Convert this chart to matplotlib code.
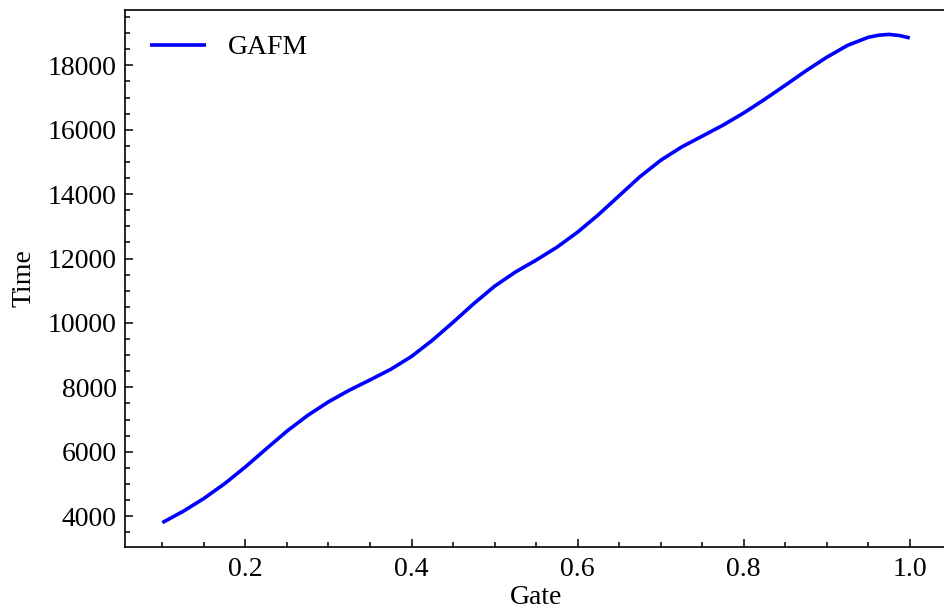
import matplotlib
matplotlib.use("Agg")
from matplotlib import pyplot as plt
from matplotlib.ticker import AutoMinorLocator
import numpy as np

plt.rcParams['font.family'] = ['Liberation Serif', 'DejaVu Serif']
plt.rcParams['font.size'] = 20

# values
gate = [0.100, 0.125, 0.150, 0.175, 0.200, 0.225, 0.250, 0.275, 0.300, 0.325,
        0.350, 0.375, 0.400, 0.425, 0.450, 0.475, 0.500, 0.525, 0.550, 0.575,
        0.600, 0.625, 0.650, 0.675, 0.700, 0.725, 0.750, 0.775, 0.800, 0.825,
        0.850, 0.875, 0.900, 0.925, 0.950, 0.9625, 0.975, 0.9875, 1.000]
time_gafm = [3800, 4150, 4550, 5010, 5530, 6090, 6640, 7130, 7550, 7910,
             8230, 8560, 8960, 9460, 10020, 10600, 11140, 11580, 11950, 12350,
             12820, 13360, 13950, 14540, 15050, 15460, 15800, 16140, 16520, 16940,
             17380, 17830, 18250, 18620, 18870, 18935, 18960, 18925, 18850]

fig = plt.figure(figsize=(9.45, 6.09), dpi=100)
ax = fig.add_axes([0.1323, 0.1018, 0.870, 0.8818])

ax.plot(gate, time_gafm, color='#0000ff', lw=2.6, label='GAFM',
        solid_capstyle='butt', solid_joinstyle='round')

ax.set_xlabel('Gate', labelpad=2)
ax.set_ylabel('Time', labelpad=8)

ax.xaxis.set_minor_locator(AutoMinorLocator())
ax.yaxis.set_minor_locator(AutoMinorLocator())
ax.tick_params(which='both', direction='in', top=False, right=False, width=1.1)
ax.tick_params(which='major', length=6)
ax.tick_params(which='minor', length=3.5)
ax.tick_params(axis='x', which='major', pad=7)
ax.tick_params(axis='y', which='major', pad=6)

for s in ax.spines.values():
    s.set_linewidth(1.2)

ax.legend(loc='upper left', frameon=False)

fig.savefig('out.png', dpi=100)
